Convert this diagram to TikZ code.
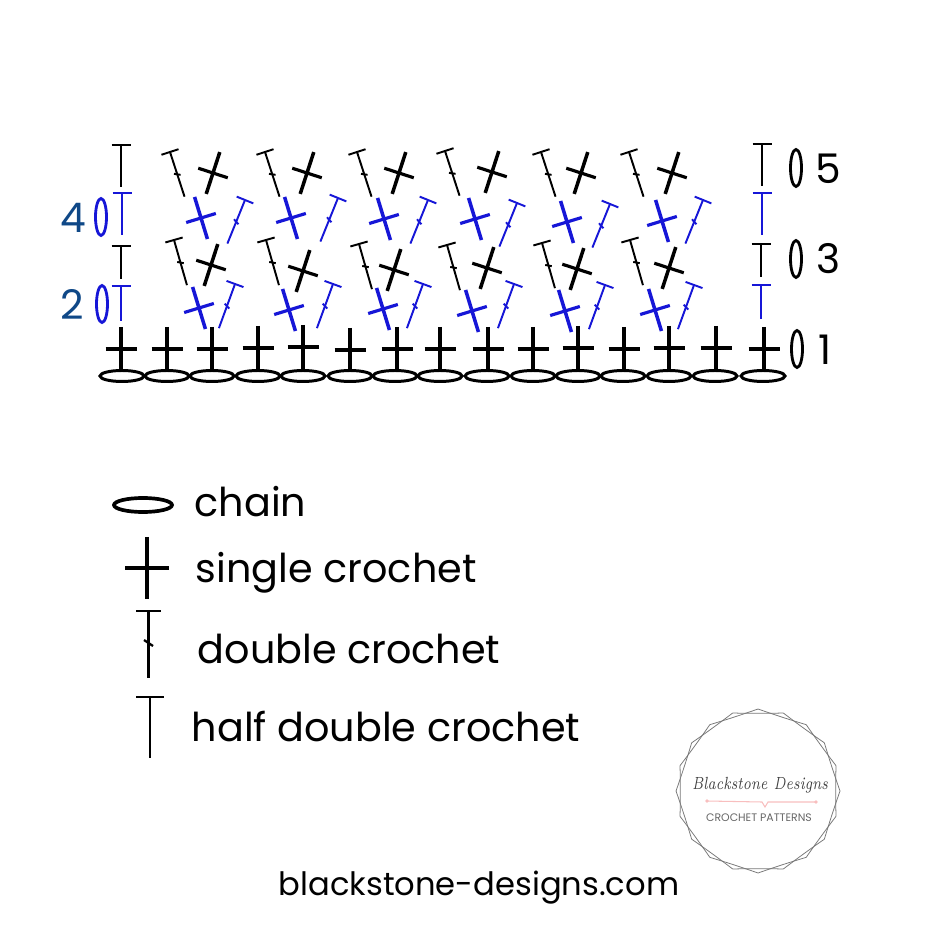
\documentclass[tikz,border=0pt]{standalone}
\usepackage{fontspec}
\setsansfont{Poppins}
\usepackage[x11names, svgnames]{xcolor}
\usepackage{tikz}
\usetikzlibrary{calc}
\definecolor{stitchblue}{RGB}{22,22,215}
\definecolor{rownumblue}{RGB}{15,72,135}
\definecolor{logogray}{RGB}{120,120,120}
\definecolor{logopink}{RGB}{248,190,190}
\tikzset{
	legendtext/.style={font=\sffamily\fontsize{11.3}{14}\selectfont, anchor=base west, inner sep=0pt},
	rownum/.style={font=\sffamily\fontsize{11.6}{14}\selectfont, inner sep=0pt},
	pics/scstitch/.style={code={
		\draw[line width=1pt] (0,-22) -- (0,22);
		\draw[line width=0.9pt] (-15.5,0) -- (15.5,0);
	}},
	pics/dcstitch/.style={code={
		\draw[line width=0.55pt] (-9,0) -- (9,0);
		\draw[line width=0.55pt] (0,0) -- (0,47);
		\draw[line width=0.55pt] (-3,22) -- (3,25);
	}},
	pics/hdcstitch/.style={code={
		\draw[line width=0.55pt] (-9.5,0) -- (9.5,0);
		\draw[line width=0.55pt] (0,0) -- (0,#1);
	}},
	pics/chainstitch/.style={code={
		\draw[line width=0.85pt] (0,0) ellipse (22 and 5.5);
	}},
}
\begin{document}
\begin{tikzpicture}[x=0.01cm, y=-0.01cm]
	\useasboundingbox (0,0) rectangle (928,934);

	% foundation chain and row 1
	\foreach \cx in {122,167,212,258,303,350,395,440,487,533,578,623,669,715,763}
		\pic at (\cx,376) {chainstitch};
	\foreach \sx/\sy in {121/349,167/349,212/349,258/348,303/347,350/350,397/349,440/349,488/349,533/349,578/348,624/349,669/348,716/348,764/349}
		\pic at (\sx,\sy) {scstitch};

	% rows 5 and 3, black
	\foreach \dx/\dy in {170/152,265/152,357/152,445/151,541/152,629/152}
		\pic[rotate=18] at (\dx,\dy) {dcstitch};
	\foreach \sx/\sy in {213/173,307/173,399/173,492/172,581/173,672/173}
		\pic[rotate=-18] at (\sx,\sy) {scstitch};
	\foreach \dx/\dy in {174/240,266/240,359/244,447/245,542/243,630/240}
		\pic[rotate=16] at (\dx,\dy) {dcstitch};
	\foreach \sx/\sy in {211/265,303/271,394/270,487/268,577/269,669/268}
		\pic[rotate=-18] at (\sx,\sy) {scstitch};

	% rows 4 and 2, blue
	\foreach \sx/\sy in {201/218,291/218,384/219,475/219,567/222,662/221}
		\pic[rotate=17, stitchblue] at (\sx,\sy) {scstitch};
	\foreach \dx/\dy in {245/200,338/198,428/200,517/203,610/204,703/200}
		\pic[rotate=-22, stitchblue] at (\dx,\dy) {dcstitch};
	\foreach \sx/\sy in {199/308,289/310,383/309,472/311,565/311,655/310}
		\pic[rotate=17, stitchblue] at (\sx,\sy) {scstitch};
	\foreach \dx/\dy in {235/284,333/284,423/284,514/284,605/285,694/285}
		\pic[rotate=-20, stitchblue] at (\dx,\dy) {dcstitch};

	% turning stitches at both ends
	\pic at (121,145) {hdcstitch=42};
	\pic[stitchblue] at (122,193) {hdcstitch=42};
	\pic at (121,246) {hdcstitch=33};
	\pic[stitchblue] at (121,286) {hdcstitch=35};
	\pic at (762,144) {hdcstitch=42};
	\pic[stitchblue] at (762,193) {hdcstitch=42};
	\pic at (761,244) {hdcstitch=33};
	\pic[stitchblue] at (761,285) {hdcstitch=34};

	% row numbers
	\draw[stitchblue, line width=0.8pt] (101,217) ellipse (5.5 and 18.5);
	\draw[stitchblue, line width=0.8pt] (102,304) ellipse (5.5 and 18.5);
	\draw[line width=0.8pt] (796,168) ellipse (5.5 and 18.5);
	\draw[line width=0.8pt] (796,259) ellipse (5.5 and 18.5);
	\draw[line width=0.8pt] (797,349) ellipse (5.5 and 18.5);
	\node[rownum, rownumblue] (rowfour) at (73,218) {4};
	\node[rownum, rownumblue] (rowtwo) at (72,304) {2};
	\node[rownum] (rowfive) at (828,169) {5};
	\node[rownum] (rowthree) at (828,259) {3};
	\node[rownum] (rowone) at (825,350) {1};

	% legend
	\draw[line width=1.05pt] (143,505) ellipse (29 and 7);
	\pic[scale=1.41] at (147,568) {scstitch};
	\draw[line width=0.65pt] (136,611) -- (161,611);
	\draw[line width=0.65pt] (148.5,611) -- (148.5,678);
	\draw[line width=0.65pt] (144,640) -- (153,646);
	\draw[line width=0.65pt] (136,697) -- (164,697);
	\draw[line width=0.65pt] (150,697) -- (150,758);
	\node[legendtext] (chainlabel) at (194,516) {chain};
	\node[legendtext] (sclabel) at (195,582) {single crochet};
	\node[legendtext] (dclabel) at (197,663) {double crochet};
	\node[legendtext] (hdclabel) at (191,741) {half double crochet};
	\node[legendtext, font=\sffamily\fontsize{9.15}{12}\selectfont] (weblabel) at (278,895) {blackstone-designs.com};

	% logo
	\coordinate (logo) at (758,791);
	\foreach \offs in {0,18}
		\foreach \ang in {0,36,...,324}
			\draw[logogray, line width=0.22pt]
				($ (logo)+(\ang+\offs:82) $) .. controls ($ (logo)+(\ang+\offs+12:78) $) and ($ (logo)+(\ang+\offs+24:78) $) .. ($ (logo)+(\ang+\offs+36:82) $);
	\node[font=\rmfamily\itshape\fontsize{5}{6}\selectfont, text=black!75, inner sep=0pt, xscale=0.78] (logoname) at (760,785) {Blackstone Designs};
	\draw[logopink, line width=0.3pt] (707,801) -- (762,802) -- (765,807) -- (768,802) -- (816,802);
	\fill[logopink] (707,801) circle (1.8);
	\fill[logopink] (816,802) circle (1.8);
	\node[font=\sffamily\fontsize{3.1}{4}\selectfont, text=black!60, inner sep=0pt] (logotag) at (759,818) {CROCHET PATTERNS};
\end{tikzpicture}
\end{document}
